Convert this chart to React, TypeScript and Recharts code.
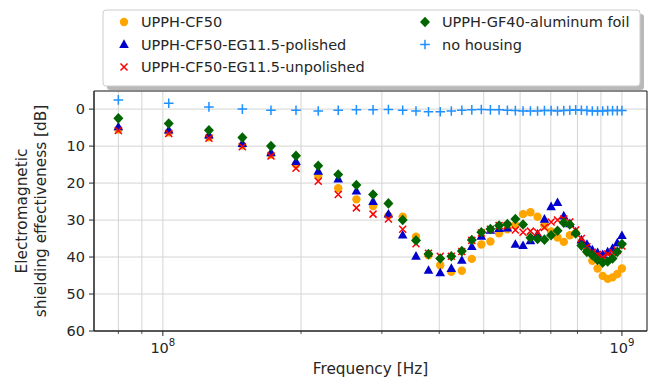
import React from 'react';
import { ScatterChart, Scatter, XAxis, YAxis, CartesianGrid, ReferenceArea } from 'recharts';

// measurement frequencies [Hz]
const freqs = [
  8.0e7, 1.03e8, 1.26e8, 1.49e8, 1.72e8, 1.95e8, 2.18e8, 2.41e8, 2.64e8, 2.87e8,
  3.10e8, 3.33e8, 3.56e8, 3.79e8, 4.02e8, 4.25e8, 4.48e8, 4.71e8, 4.94e8, 5.17e8,
  5.40e8, 5.63e8, 5.86e8, 6.09e8, 6.32e8, 6.55e8, 6.78e8, 7.01e8, 7.24e8, 7.47e8,
  7.70e8, 7.93e8, 8.16e8, 8.39e8, 8.62e8, 8.85e8, 9.08e8, 9.31e8, 9.54e8, 9.77e8, 1.0e9,
];

const cf50 = [
  5.5, 6.3, 7.6, 9.8, 12.3, 15.0, 18.0, 21.4, 24.4, 26.2,
  28.8, 29.1, 34.5, 39.5, 42.2, 44.0, 43.7, 40.5, 36.6, 35.8,
  33.6, 32.5, 31.4, 28.4, 27.9, 29.1, 31.4, 33.1, 34.7, 35.9,
  34.1, 33.5, 36.0, 38.5, 41.0, 43.1, 45.1, 45.9, 45.5, 44.6, 43.1,
];

const polished = [
  4.8, 5.7, 7.0, 9.3, 11.8, 14.2, 16.8, 18.9, 22.2, 25.0,
  28.4, 34.1, 39.8, 43.6, 44.3, 43.1, 40.9, 37.2, 34.4, 32.8,
  32.3, 32.2, 36.6, 36.9, 35.6, 33.8, 29.8, 26.4, 25.3, 28.9,
  31.0, 33.2, 35.4, 36.6, 38.1, 38.8, 39.4, 38.6, 37.7, 36.2, 34.2,
];

const unpolished = [
  5.8, 6.6, 7.9, 10.2, 12.7, 16.0, 19.5, 23.1, 26.7, 28.4,
  29.7, 32.5, 36.4, 39.0, 39.8, 39.8, 38.5, 35.5, 33.5, 32.5,
  31.5, 31.5, 32.7, 33.3, 33.0, 33.3, 32.0, 30.5, 30.0, 29.7,
  30.5, 32.7, 35.0, 37.2, 38.7, 39.3, 40.0, 39.2, 38.7, 38.2, 37.0,
];

const gf40 = [
  2.5, 3.9, 5.7, 7.7, 10.0, 12.6, 15.3, 17.7, 20.5, 23.1,
  25.5, 30.0, 35.5, 39.2, 40.4, 39.8, 38.4, 35.4, 33.3, 32.4,
  31.5, 31.1, 29.7, 31.2, 34.8, 35.1, 35.3, 34.1, 32.9, 30.7,
  31.2, 33.6, 36.9, 38.6, 39.5, 40.8, 41.5, 41.2, 40.4, 38.6, 36.5,
];

const noHousing = [
  -2.5, -1.6, -0.6, 0.0, 0.3, 0.3, 0.5, 0.3, 0.2, 0.2,
  0.1, 0.3, 0.5, 0.7, 0.7, 0.5, 0.3, 0.2, 0.1, 0.2,
  0.2, 0.3, 0.4, 0.5, 0.5, 0.5, 0.4, 0.4, 0.5, 0.4,
  0.3, 0.2, 0.3, 0.4, 0.5, 0.5, 0.5, 0.4, 0.4, 0.4, 0.4,
];

const xTicks = [8e7, 9e7, 1e8, 2e8, 3e8, 4e8, 5e8, 6e8, 7e8, 8e8, 9e8, 1e9];
const majorTicks: Record<number, string> = { 100000000: '8', 1000000000: '9' };
const yTicks = [0, 10, 20, 30, 40, 50, 60];

const FONT = '"DejaVu Sans", sans-serif';
const TXT = '#262626';

const toPoints = (vals: number[]) => freqs.map((f, i) => ({ f, v: vals[i] }));

const Dot = ({ cx, cy }: any) => <circle cx={cx} cy={cy} r={4.2} fill="#FFA500" />;
const Tri = ({ cx, cy }: any) => (
  <path d={`M${cx},${cy - 5.2} L${cx + 4.8},${cy + 3.4} L${cx - 4.8},${cy + 3.4} Z`} fill="#0000CD" />
);
const XMark = ({ cx, cy }: any) => (
  <path d={`M${cx - 3.5},${cy - 3.5} L${cx + 3.5},${cy + 3.5} M${cx - 3.5},${cy + 3.5} L${cx + 3.5},${cy - 3.5}`} stroke="#FF0000" strokeWidth={1.5} />
);
const Diamond = ({ cx, cy }: any) => (
  <path d={`M${cx},${cy - 5.3} L${cx + 5},${cy} L${cx},${cy + 5.3} L${cx - 5},${cy} Z`} fill="#006400" />
);
const Plus = ({ cx, cy }: any) => (
  <path d={`M${cx - 4.8},${cy} L${cx + 4.8},${cy} M${cx},${cy - 4.8} L${cx},${cy + 4.8}`} stroke="#1E90FF" strokeWidth={1.5} />
);

const XTick = (props: any) => {
  const { x, y, payload } = props;
  const exp = majorTicks[payload.value];
  return (
    <g>
      <line x1={x} x2={x} y1={y} y2={y + (exp ? 5 : 3)} stroke={TXT} strokeWidth={exp ? 1 : 0.8} />
      {exp && (
        <text x={x} y={y + 22} textAnchor="middle" fontFamily={FONT} fontSize={14.5} fill={TXT}>
          10<tspan dy={-7} fontSize={10.2}>{exp}</tspan>
        </text>
      )}
    </g>
  );
};

const legendItems = [
  { name: 'UPPH-CF50', Shape: Dot, col: 0, row: 0 },
  { name: 'UPPH-CF50-EG11.5-polished', Shape: Tri, col: 0, row: 1 },
  { name: 'UPPH-CF50-EG11.5-unpolished', Shape: XMark, col: 0, row: 2 },
  { name: 'UPPH-GF40-aluminum foil', Shape: Diamond, col: 1, row: 0 },
  { name: 'no housing', Shape: Plus, col: 1, row: 1 },
];

const ChartLegend = () => (
  <svg width={657} height={100} style={{ position: 'absolute', left: 0, top: 0 }}>
    <rect x={107} y={14} width={537} height={76} rx={3} fill="#7f7f7f" opacity={0.55} />
    <rect x={103} y={10} width={537} height={76} rx={3} fill="#ffffff" stroke="#cccccc" />
    {legendItems.map(({ name, Shape, col, row }) => {
      const mx = col === 0 ? 124 : 425;
      const my = 22 + row * 22.5;
      return (
        <g key={name}>
          <Shape cx={mx} cy={my} />
          <text x={mx + 17} y={my} dominantBaseline="central" fontFamily={FONT} fontSize={14.5} fill={TXT}>{name}</text>
        </g>
      );
    })}
  </svg>
);

const xDomain = [7.08e7, 1.134e9];
const yDomain = [-4.9, 60];

export default function App() {
  return (
    <div style={{ position: 'absolute', left: 0, top: 0, width: 657, height: 380, background: '#fff' }}>
      <ScatterChart width={657} height={380} margin={{ top: 91, right: 10, bottom: 0, left: 0 }}>
        <CartesianGrid stroke="#d4d4d4" strokeWidth={1} />
        <XAxis
          dataKey="f"
          type="number"
          scale="log"
          domain={xDomain}
          allowDataOverflow
          ticks={xTicks}
          interval={0}
          tick={<XTick />}
          tickSize={0}
          tickMargin={0}
          tickLine={false}
          height={49}
          axisLine={{ stroke: TXT }}
          label={{ value: 'Frequency [Hz]', position: 'insideBottom', offset: 6, fill: TXT, fontFamily: FONT, fontSize: 15.3 }}
        />
        <YAxis
          dataKey="v"
          type="number"
          reversed
          domain={yDomain}
          allowDataOverflow
          ticks={yTicks}
          interval={0}
          width={94}
          tickSize={5}
          tickMargin={4}
          tickLine={{ stroke: TXT }}
          axisLine={{ stroke: TXT }}
          tick={{ fill: TXT, fontFamily: FONT, fontSize: 14.5 }}
          label={(p: any) => {
            const vb = p.viewBox;
            const cy = vb.y + vb.height / 2;
            return (
              <g>
                <text x={22} y={cy} transform={`rotate(-90 22 ${cy})`} textAnchor="middle" dominantBaseline="central" fontFamily={FONT} fontSize={15.3} fill={TXT}>Electromagnetic</text>
                <text x={41} y={cy} transform={`rotate(-90 41 ${cy})`} textAnchor="middle" dominantBaseline="central" fontFamily={FONT} fontSize={15.3} fill={TXT}>shielding effectiveness [dB]</text>
              </g>
            );
          }}
        />
        <ReferenceArea x1={xDomain[0]} x2={xDomain[1]} y1={yDomain[0]} y2={yDomain[1]} fill="none" stroke={TXT} strokeWidth={1} ifOverflow="visible" />
        <Scatter name="UPPH-CF50" data={toPoints(cf50)} shape={<Dot />} isAnimationActive={false} />
        <Scatter name="UPPH-CF50-EG11.5-polished" data={toPoints(polished)} shape={<Tri />} isAnimationActive={false} />
        <Scatter name="UPPH-CF50-EG11.5-unpolished" data={toPoints(unpolished)} shape={<XMark />} isAnimationActive={false} />
        <Scatter name="UPPH-GF40-aluminum foil" data={toPoints(gf40)} shape={<Diamond />} isAnimationActive={false} />
        <Scatter name="no housing" data={toPoints(noHousing)} shape={<Plus />} isAnimationActive={false} />
      </ScatterChart>
      <ChartLegend />
    </div>
  );
}
